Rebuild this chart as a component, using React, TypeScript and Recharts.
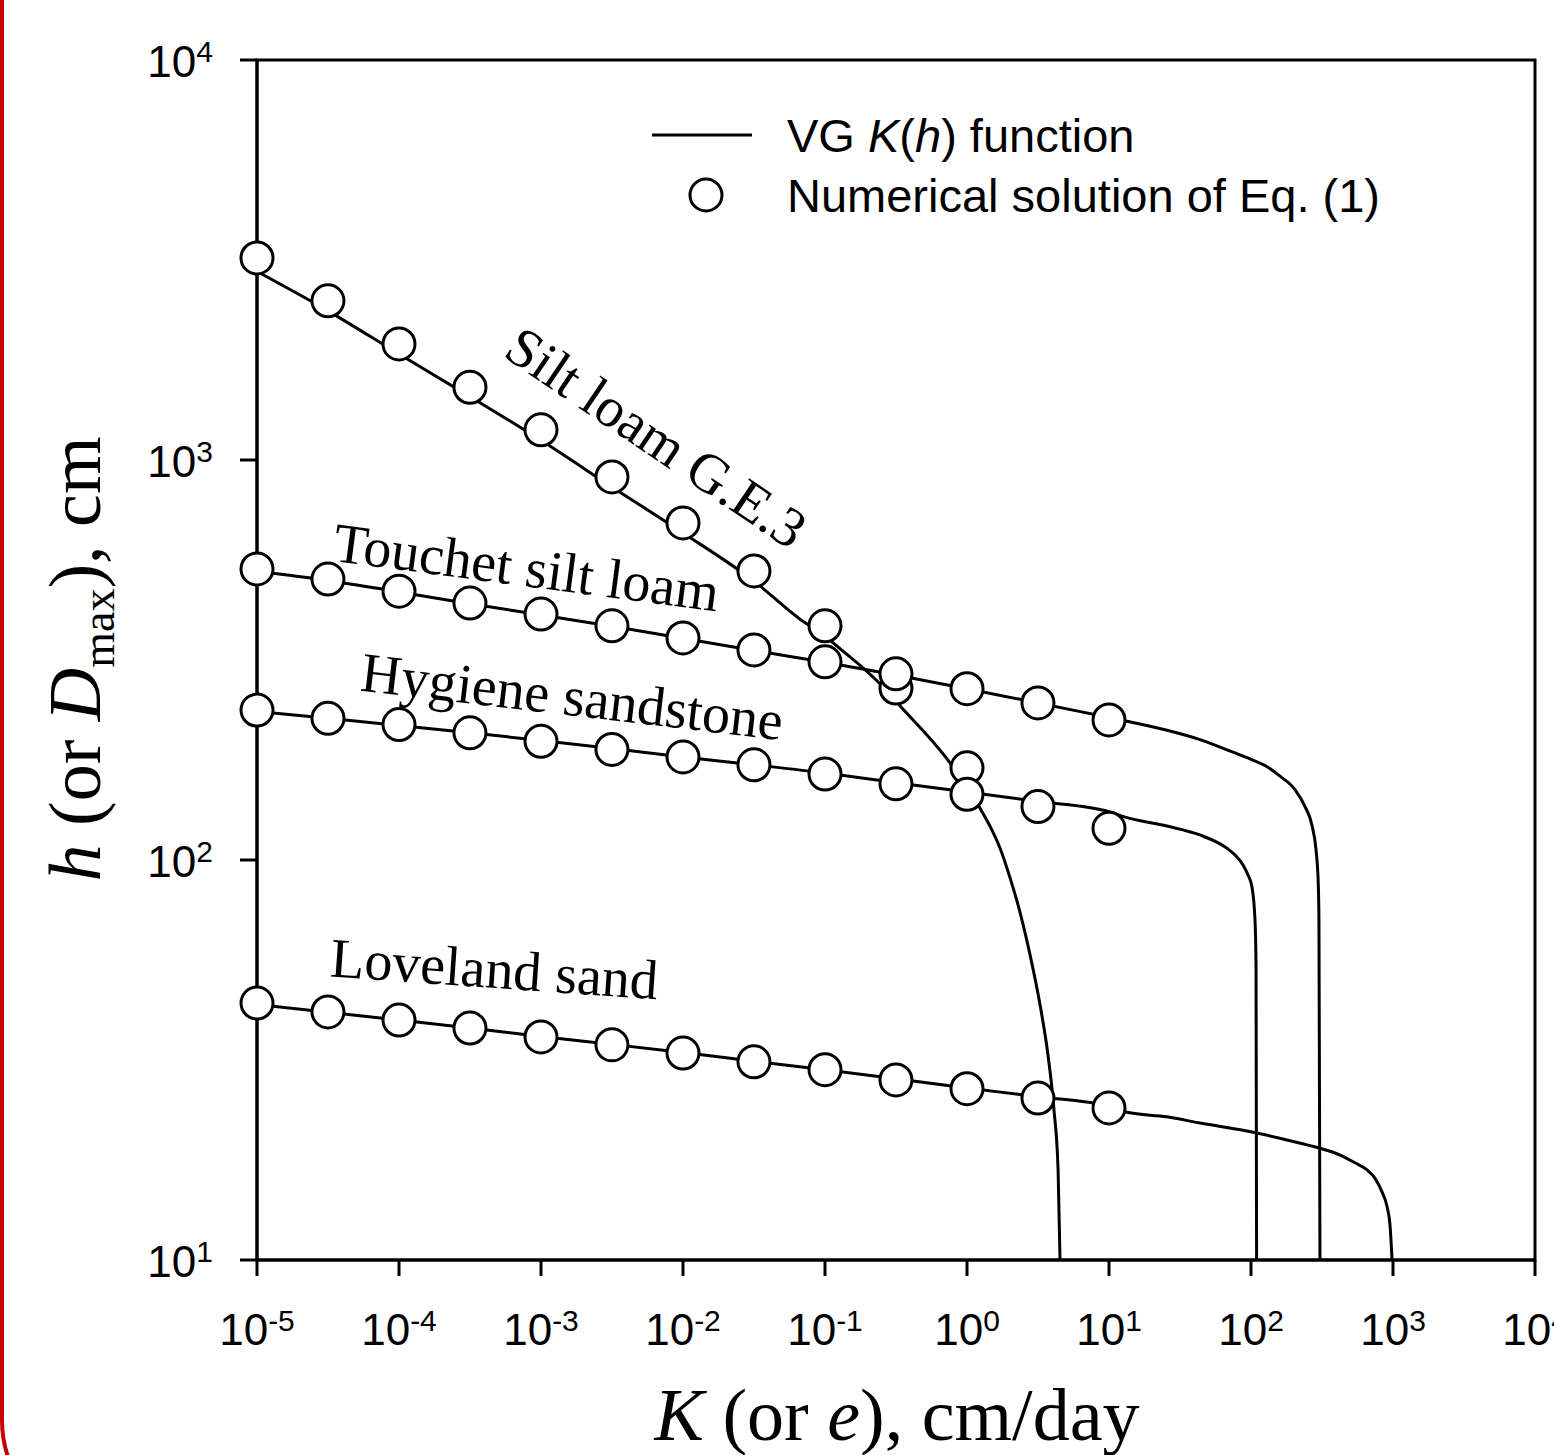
import { ComposedChart, Line, Scatter, XAxis, YAxis, ReferenceArea, ReferenceDot } from 'recharts'

const SANS = '"Liberation Sans", Arial, Helvetica, sans-serif'
const SERIF = '"Liberation Serif", "Times New Roman", Times, serif'

// axis ticks (powers of ten) and their exponents
const kTicks = [1e-5, 1e-4, 1e-3, 1e-2, 1e-1, 1, 10, 100, 1000, 10000]
const kExp = ['-5', '-4', '-3', '-2', '-1', '0', '1', '2', '3', '4']
const hTicks = [10, 100, 1000, 10000]
const hExp = ['1', '2', '3', '4']

// numerical solution (circles), K in cm/day
const kNum = [1e-5, 3.16e-5, 1e-4, 3.16e-4, 1e-3, 3.16e-3, 1e-2, 3.16e-2, 0.1, 0.316, 1, 3.16, 10]
const siltNum = [3200, 2500, 1950, 1520, 1190, 907, 696, 528, 385, 269, 170]
const touchetNum = [534, 504, 470, 439, 412, 385, 359, 335, 313, 292, 268, 247, 224]
const hygieneNum = [237, 226, 218, 208, 198, 189, 181, 173, 164, 155, 146, 136, 120]
const lovelandNum = [43.9, 41.7, 39.8, 38.0, 36.1, 34.5, 32.9, 31.3, 29.9, 28.2, 26.8, 25.4, 24.0]

// VG K(h) curves
const siltLineK = [1e-5, 3.16e-5, 1e-4, 3.16e-4, 1e-3, 3.16e-3, 1e-2, 3.16e-2, 0.0667, 0.1, 0.114, 0.236, 0.337, 0.759, 1, 1.23, 1.45, 1.71, 2.01, 2.36, 2.78, 3.27, 3.72, 4.1, 4.38, 4.52]
const siltLineH = [2960, 2360, 1840, 1440, 1120, 856, 657, 498, 400, 363, 349, 279, 243, 175, 152, 135, 121.6, 107, 90.2, 74.1, 57.9, 43.4, 32.5, 23.7, 16.8, 10]

const touchetLineK = [1e-5, 3.16e-5, 1e-4, 3.16e-4, 1e-3, 3.16e-3, 1e-2, 3.16e-2, 0.1, 0.316, 1, 3.16, 10, 13.6, 25.6, 43.7, 74.7, 98.4, 130, 160, 204, 240, 269, 287, 297, 301, 306]
const touchetLineH = [527, 500, 468, 437, 410, 384, 358, 334, 312, 290, 268, 247, 227, 222, 211, 200, 186, 179, 171, 162, 150, 136, 122, 106, 89.1, 70.8, 10]

const hygieneLineK = [1e-5, 3.16e-5, 1e-4, 3.16e-4, 1e-3, 3.16e-3, 1e-2, 3.16e-2, 0.1, 0.316, 1, 3.16, 10, 13, 25.6, 43.7, 67.7, 77.1, 87.9, 95.3, 101.6, 106.7, 108.5, 109.5]
const hygieneLineH = [235, 226, 217, 208, 199, 190, 181, 173, 165, 156, 148, 140, 132, 128, 121.6, 115.5, 107, 103, 97.2, 91.7, 85.6, 70.8, 54.6, 10]

const lovelandLineK = [1e-5, 3.16e-5, 1e-4, 3.16e-4, 1e-3, 3.16e-3, 1e-2, 3.16e-2, 0.1, 0.316, 1, 3.16, 10, 13.4, 25.6, 43.7, 108, 179, 301, 424, 540, 656, 747, 837, 908, 953, 985]
const lovelandLineH = [43.5, 41.6, 39.8, 38.0, 36.2, 34.6, 33.0, 31.4, 29.9, 28.4, 26.9, 25.6, 24.2, 23.4, 22.8, 22.0, 20.8, 19.95, 19.05, 18.3, 17.5, 16.8, 16.0, 14.8, 13.6, 12.2, 10]

const curveNames = ['Silt loam G.E.3', 'Touchet silt loam', 'Hygiene sandstone', 'Loveland sand']

const pairs = (ks: number[], hs: number[]) => ks.slice(0, hs.length).map((k, i) => ({ k, h: hs[i] }))

const lines = [
  pairs(siltLineK, siltLineH),
  pairs(touchetLineK, touchetLineH),
  pairs(hygieneLineK, hygieneLineH),
  pairs(lovelandLineK, lovelandLineH),
]
const points = [
  pairs(kNum, siltNum),
  pairs(kNum, touchetNum),
  pairs(kNum, hygieneNum),
  pairs(kNum, lovelandNum),
]

// where the curve names sit (data coords) and their tilt
const nameSpots = [
  { k: 5.48e-3, h: 1041, angle: 34 },
  { k: 7.59e-4, h: 484, angle: 7.5 },
  { k: 1.6e-3, h: 230, angle: 6.7 },
  { k: 4.59e-4, h: 47.9, angle: 4 },
]

const ring = (p: any) => (
  <circle cx={p.cx} cy={p.cy} r={16} fill="#fff" stroke="#000" strokeWidth={3} />
)

const XTick = (p: any) => {
  const i = kTicks.indexOf(p.payload.value)
  return (
    <text x={p.x} y={p.y + 59} textAnchor="middle" fontFamily={SANS} fontSize={44} fill="#000">
      <tspan>10</tspan>
      <tspan dy={-14} fontSize={30}>{kExp[i]}</tspan>
    </text>
  )
}

const YTick = (p: any) => {
  const i = hTicks.indexOf(p.payload.value)
  return (
    <text x={p.x} y={p.y + 17} textAnchor="end" fontFamily={SANS} fontSize={44} fill="#000">
      <tspan>10</tspan>
      <tspan dy={-15} fontSize={30}>{hExp[i]}</tspan>
    </text>
  )
}

const nameLabel = (text: string, angle: number) => (p: any) => (
  <text
    x={p.cx}
    y={p.cy}
    transform={`rotate(${angle} ${p.cx} ${p.cy})`}
    textAnchor="middle"
    fontFamily={SERIF}
    fontSize={56}
    fill="#000"
  >
    {text}
  </text>
)

export default function App() {
  return (
    <div style={{ position: 'fixed', left: 0, top: 0, width: 1554, height: 1455, overflow: 'hidden', background: '#fff' }}>
      <div
        style={{
          position: 'absolute',
          left: 0,
          top: -300,
          width: 3000,
          height: 1840,
          border: '4px solid #c80000',
          borderRadius: 120,
          boxSizing: 'border-box',
        }}
      />
      <div style={{ position: 'absolute', left: 0, top: 0 }}>
        <ComposedChart width={1620} height={1455} margin={{ top: 60, right: 85, bottom: 0, left: 0 }}>
          <XAxis
            dataKey="k"
            type="number"
            scale="log"
            domain={[1e-5, 1e4]}
            ticks={kTicks}
            interval={0}
            height={195}
            tickSize={16}
            tickMargin={10}
            axisLine={{ stroke: '#000', strokeWidth: 3 }}
            tickLine={{ stroke: '#000', strokeWidth: 3 }}
            tick={<XTick />}
          />
          <YAxis
            dataKey="h"
            type="number"
            scale="log"
            domain={[10, 1e4]}
            ticks={hTicks}
            interval={0}
            width={257}
            tickSize={17}
            tickMargin={27}
            axisLine={{ stroke: '#000', strokeWidth: 3 }}
            tickLine={{ stroke: '#000', strokeWidth: 3 }}
            tick={<YTick />}
          />
          <ReferenceArea x1={1e-5} x2={1e4} y1={10} y2={1e4} fill="none" fillOpacity={0} stroke="#000" strokeWidth={3} />
          {lines.map((d, i) => (
            <Line
              key={'l' + i}
              data={d}
              dataKey="h"
              type="monotone"
              stroke="#000"
              strokeWidth={3}
              dot={false}
              activeDot={false}
              isAnimationActive={false}
            />
          ))}
          {points.map((d, i) => (
            <Scatter key={'s' + i} data={d} dataKey="h" shape={ring} isAnimationActive={false} />
          ))}
          {nameSpots.map((s, i) => (
            <ReferenceDot key={'n' + i} x={s.k} y={s.h} r={0} shape={nameLabel(curveNames[i], s.angle)} />
          ))}
        </ComposedChart>
      </div>
      <svg width={1554} height={1455} style={{ position: 'absolute', left: 0, top: 0, pointerEvents: 'none' }}>
        {/* legend */}
        <line x1={652} x2={752} y1={135} y2={135} stroke="#000" strokeWidth={3} />
        <circle cx={706} cy={195} r={16} fill="#fff" stroke="#000" strokeWidth={3} />
        <text x={787} y={152} fontFamily={SANS} fontSize={47} fill="#000">
          VG <tspan fontStyle="italic">K</tspan>(<tspan fontStyle="italic">h</tspan>) function
        </text>
        <text x={787} y={212} fontFamily={SANS} fontSize={47} fill="#000">
          Numerical solution of Eq. (1)
        </text>
        {/* axis titles */}
        <text x={897} y={1440} textAnchor="middle" fontFamily={SERIF} fontSize={74} fill="#000">
          <tspan fontStyle="italic">K</tspan> (or <tspan fontStyle="italic">e</tspan>), cm/day
        </text>
        <text
          x={100}
          y={659}
          transform="rotate(-90 100 659)"
          textAnchor="middle"
          fontFamily={SERIF}
          fontSize={74}
          fill="#000"
        >
          <tspan fontStyle="italic">h</tspan> (or <tspan fontStyle="italic">D</tspan>
          <tspan fontSize={46} dy={14}>max</tspan>
          <tspan dy={-14}>), cm</tspan>
        </text>
      </svg>
    </div>
  )
}
